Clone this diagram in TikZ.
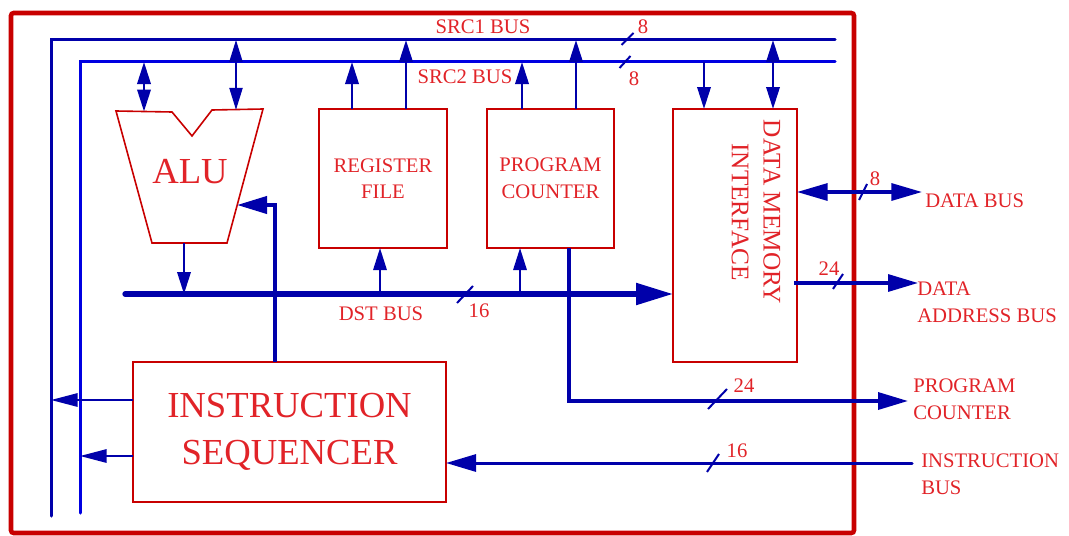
\documentclass[tikz,border=0pt]{standalone}
\usepackage{fontspec}
\setmainfont{Liberation Serif}
\usetikzlibrary{arrows.meta,calc}
\definecolor{navy}{RGB}{0,0,170}
\definecolor{bblue}{RGB}{0,0,225}
\definecolor{boxred}{RGB}{200,0,0}
\definecolor{txtred}{RGB}{225,35,40}
\tikzset{
  blk/.style={draw=boxred, line width=1.2pt, rectangle, inner sep=0pt, outer sep=0pt},
  txt/.style={text=txtred, font=\fontsize{15.5}{20}\selectfont, inner sep=0pt},
  bigtxt/.style={text=txtred, font=\fontsize{27.5}{35}\selectfont, inner sep=0pt, align=center},
  bus/.style={line width=2.25pt, line cap=round},
  conn/.style={navy, line width=1.9pt},
  slash/.style={navy, line width=1.5pt},
  aS/.style={-{Triangle[length=16.5pt,width=10pt]}},
  aSS/.style={{Triangle[length=16.5pt,width=10pt]}-{Triangle[length=16.5pt,width=10pt]}},
  aM/.style={-{Triangle[length=22.5pt,width=12.75pt]}},
  aMM/.style={{Triangle[length=23pt,width=12.75pt]}-{Triangle[length=23pt,width=12.75pt]}},
  aL/.style={-{Triangle[length=27.75pt,width=15.75pt]}},
  aQ/.style={-{Triangle[length=20pt,width=10pt]}}
}
\begin{document}
\begin{tikzpicture}[x=0.75pt,y=-0.75pt]
\useasboundingbox (0,0) rectangle (1069,535);

% outer frame
\draw[boxred, line width=3.4pt, rounded corners=2pt] (11,13) rectangle (854,533);

% bus coordinates
\coordinate (s1r) at (835,40);
\coordinate (s1c) at (51,40);
\coordinate (s1b) at (51,516);
\coordinate (s2r) at (835,62);
\coordinate (s2c) at (80,62);
\coordinate (s2b) at (80,513);

% SRC buses
\draw[bus, navy] (s1r) -- (s1c) -- (s1b);
\draw[bus, bblue] (s2r) -- (s2c) -- (s2b);

% blocks
\node[blk, minimum width=96pt, minimum height=104.25pt, align=center, text=txtred,
      font=\fontsize{15.5}{20}\selectfont] (reg) at (383,178.5) {REGISTER\\FILE};
\node[blk, minimum width=95.25pt, minimum height=104.25pt, align=center, text=txtred,
      font=\fontsize{15.5}{20}\selectfont] (pc) at (550.5,178.5) {PROGRAM\\COUNTER};
\node[blk, minimum width=93pt, minimum height=189.75pt] (dmi) at (735,235.5) {};
\node[text=txtred, font=\fontsize{19}{24}\selectfont, align=center, rotate=-90, inner sep=0pt]
      (dmit) at (756,212) {DATA MEMORY\\INTERFACE};
\node[blk, minimum width=234.75pt, minimum height=105pt, bigtxt] (seq) at (289.5,432)
      {INSTRUCTION\\SEQUENCER};

% ALU
\draw[draw=boxred, line width=1.2pt, line join=miter]
  (116,111) coordinate (alutl) -- (172,112) -- (192,136) -- (212,110) -- (263,109) coordinate (alutr)
  -- (227,243) coordinate (alubr) -- (152,243) coordinate (alubl) -- cycle;
\node[bigtxt] (alu) at (190,172) {ALU};
\coordinate (aluin1) at (144,111.5);
\coordinate (aluin2) at (236,109.8);
\coordinate (aluout) at (184,243);
\coordinate (aluright) at (237,205);

% DST bus
\coordinate (dsts) at (125,294);
\draw[navy, line width=4pt, line cap=round, aL] (dsts) -- (dsts -| dmi.west);

% ALU connections
\draw[conn, aSS] (aluin1 |- s2c) -- (aluin1);
\draw[navy, line width=0.9pt, aSS] (aluin2 |- s1c) -- (aluin2);
\draw[conn, aS] (aluout) -- (aluout |- dsts);
\draw[navy, line width=3pt, aM] (seq.north -| 275,0) -- (275,205) -- (aluright);

% register file connections
\draw[conn, aS] (reg.north -| 352,0) -- (352,62);
\draw[conn, aS] (reg.north -| 406,0) -- (406,40);
\draw[navy, line width=1.6pt, aS] (380,294) -- (reg.south -| 380,0);

% program counter connections
\draw[conn, aS] (pc.north -| 522,0) -- (522,62);
\draw[conn, aS] (pc.north -| 576,0) -- (576,40);
\draw[navy, line width=1.6pt, aS] (520,294) -- (pc.south -| 520,0);

% DMI connections
\draw[conn, aS] (704,62) -- (dmi.north -| 704,0);
\draw[conn, aSS] (773,40) -- (dmi.north -| 773,0);

% external buses
\coordinate (dbus) at (922,192);
\draw[navy, line width=2.4pt, aMM] (dmi.east |- dbus) -- (dbus);
\coordinate (dabus) at (918,283);
\draw[navy, line width=2.4pt, aM] (794,283) -- (dabus);
\coordinate (pcout) at (908,401);
\draw[navy, line width=2.6pt, aM] (pc.south -| 569,0) -- (569,401) -- (pcout);
\coordinate (ibus) at (912,463);
\draw[navy, line width=2.25pt, line cap=round, aM] (ibus) -- (seq.east |- ibus);

% sequencer control outputs
\draw[navy, line width=1.5pt, aQ] (seq.west |- 0,400) -- (51,400);
\draw[navy, line width=1.5pt, aQ] (seq.west |- 0,456) -- (80,456);

% slashes
\draw[slash] (621.5,45) -- (633.5,33);
\draw[slash] (619.5,68) -- (630.5,56);
\draw[slash] (457,303) -- (473,286);
\draw[slash] (859,200) -- (867,184);
\draw[slash] (833,289) -- (843,274);
\draw[slash] (708,409) -- (727,389);
\draw[slash] (707,472) -- (719,454);

% labels
\node[txt] (l1) at (483,27) {SRC1 BUS};
\node[txt] (l2) at (465,77) {SRC2 BUS};
\node[txt] (l3) at (643,27) {8};
\node[txt] (l4) at (634,79) {8};
\node[txt] (l5) at (381,314) {DST BUS};
\node[txt] (l6) at (479,311) {16};
\node[txt] (l7) at (875,179) {8};
\node[txt] (l8) at (829,269) {24};
\node[txt] (l9) at (744,386) {24};
\node[txt] (l10) at (737,451) {16};
\node[txt, anchor=west] (l11) at (925,201) {DATA BUS};
\node[txt, anchor=west, align=left] (l12) at (917,302.5) {DATA\\ADDRESS BUS};
\node[txt, anchor=west, align=left] (l13) at (913,399) {PROGRAM\\COUNTER};
\node[txt, anchor=west, align=left] (l14) at (921,474) {INSTRUCTION\\BUS};
\end{tikzpicture}
\end{document}
